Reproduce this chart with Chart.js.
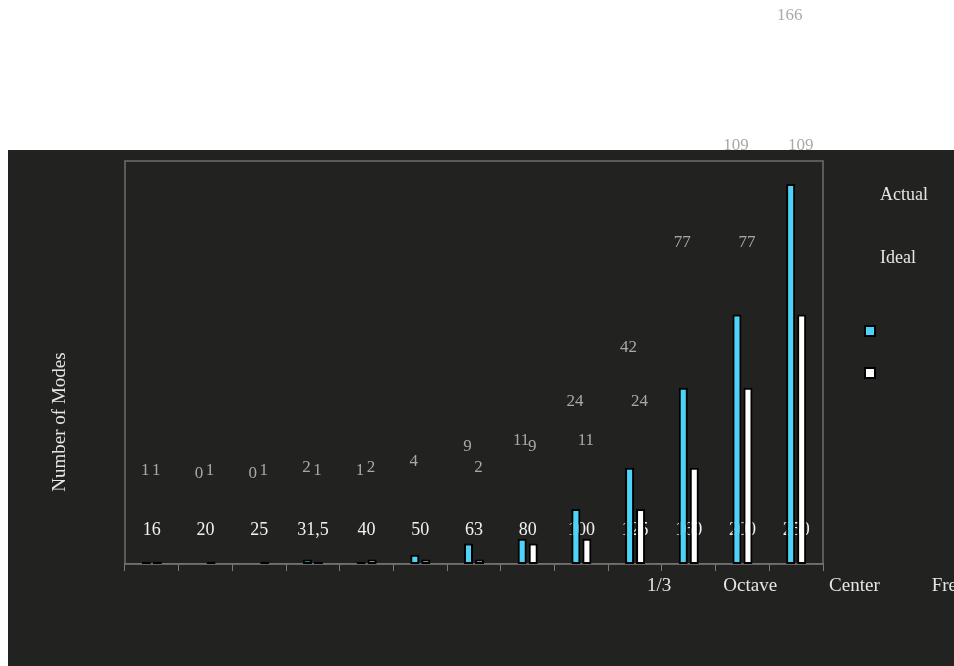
<!DOCTYPE html>
<html>
<head>
<meta charset="utf-8">
<script src="https://cdn.jsdelivr.net/npm/chart.js@4/dist/chart.umd.min.js"></script>
<style>
    html, body { margin: 0; padding: 0; background: #ffffff; }
    #panel { position: absolute; left: 8px; top: 150px; width: 946px; height: 516px; background: #222221; }
    #modes { position: absolute; left: 0; top: 0; }
</style>
</head>
<body>
<div id="panel"></div>
<canvas id="modes" width="954" height="666"></canvas>
<script>
// 1/3 octave bands and mode counts per band
const bands = ["16", "20", "25", "31,5", "40", "50", "63", "80", "100", "125", "160", "200", "250"];
const actualModes = [1, 0, 0, 2, 1, 4, 9, 11, 24, 42, 77, 109, 166];
const idealModes = [1, 1, 1, 1, 2, 2, 2, 9, 11, 24, 42, 77, 109];
// ideal bands whose count is not printed
const idealUnlabelled = [5, 10];

const xTitleWords = ["1/3", "Octave", "Center", "Frequency"];
const yTitle = "Number of Modes";

const SERIF = "'Liberation Serif', 'DejaVu Serif', serif";

const chartDecor = {
    id: "chartDecor",
    beforeDatasetsDraw(chart) {
        const { ctx, chartArea } = chart;
        const x = chart.scales.x;
        ctx.save();

        // plot frame
        ctx.strokeStyle = "#6f6f6f";
        ctx.lineWidth = 1.5;
        ctx.strokeRect(chartArea.left, chartArea.top, chartArea.right - chartArea.left, chartArea.bottom - chartArea.top);

        // band names sit inside the plot, behind the bars
        ctx.fillStyle = "#f2f2f2";
        ctx.font = "18px " + SERIF;
        ctx.textAlign = "center";
        ctx.textBaseline = "middle";
        bands.forEach((b, i) => {
            ctx.fillText(b, x.getPixelForValue(i), chartArea.bottom - 34);
        });

        // value labels placed on their own hidden scale
        const ly = chart.scales.yLabels;
        ctx.fillStyle = "#a9a9a9";
        ctx.font = "17px " + SERIF;
        chart.data.datasets.forEach((ds, d) => {
            const meta = chart.getDatasetMeta(d);
            ds.data.forEach((v, i) => {
                if (d === 1 && idealUnlabelled.includes(i)) return;
                const px = meta.data[i].x - 1;
                const py = Math.max(16, ly.getPixelForValue(v));
                ctx.fillText(String(v), px, py);
            });
        });
        ctx.restore();
    },
    afterDraw(chart) {
        const { ctx, chartArea } = chart;
        ctx.save();
        ctx.fillStyle = "#e6e6e6";
        ctx.font = "19px " + SERIF;
        ctx.textBaseline = "middle";

        // x title, words spread out along the bottom
        ctx.textAlign = "left";
        let wx = chartArea.left + 522;
        xTitleWords.forEach(w => {
            ctx.fillText(w, wx, chartArea.bottom + 22);
            wx += ctx.measureText(w).width + 52;
        });

        // y title
        ctx.save();
        ctx.translate(60, 422);
        ctx.rotate(-Math.PI / 2);
        ctx.textAlign = "center";
        ctx.fillText(yTitle, 0, 0);
        ctx.restore();

        // legend: names on top, swatches further down
        const lx = chartArea.right + 57;
        ctx.font = "18px " + SERIF;
        ctx.textAlign = "left";
        ctx.fillText(chart.data.datasets[0].label, lx, 195);
        ctx.fillText(chart.data.datasets[1].label, lx, 258);
        [331, 373].forEach((sy, d) => {
            ctx.fillStyle = "#000000";
            ctx.fillRect(lx - 16, sy - 6, 12, 12);
            ctx.fillStyle = chart.data.datasets[d].backgroundColor;
            ctx.fillRect(lx - 14, sy - 4, 8, 8);
        });
        ctx.restore();
    }
};

new Chart(document.getElementById("modes"), {
    type: "bar",
    data: {
        labels: bands,
        datasets: [
            {
                label: "Actual",
                data: actualModes,
                backgroundColor: "#4dd3f7",
                borderColor: "#000000",
                borderWidth: 2,
                borderSkipped: false,
                categoryPercentage: 0.41,
                barPercentage: 0.82,
            },
            {
                label: "Ideal",
                data: idealModes,
                backgroundColor: "#ffffff",
                borderColor: "#000000",
                borderWidth: 2,
                borderSkipped: false,
                categoryPercentage: 0.41,
                barPercentage: 0.82,
            },
        ],
    },
    options: {
        responsive: false,
        animation: false,
        layout: { padding: { left: 125, top: 161, right: 131, bottom: 0 } },
        plugins: {
            legend: { display: false },
            tooltip: { enabled: false },
        },
        scales: {
            x: {
                grid: { drawOnChartArea: false, drawTicks: true, tickLength: 7, color: "#7a7a7a", offset: true },
                border: { display: true, color: "#7a7a7a", width: 1.5 },
                ticks: { display: false },
                afterFit: (scale) => { scale.height = 102; },
            },
            y: { display: false, min: 0, max: 176 },
            yLabels: { type: "linear", position: "left", display: false, min: -30, max: 104 },
        },
    },
    plugins: [chartDecor],
});
</script>
</body>
</html>
